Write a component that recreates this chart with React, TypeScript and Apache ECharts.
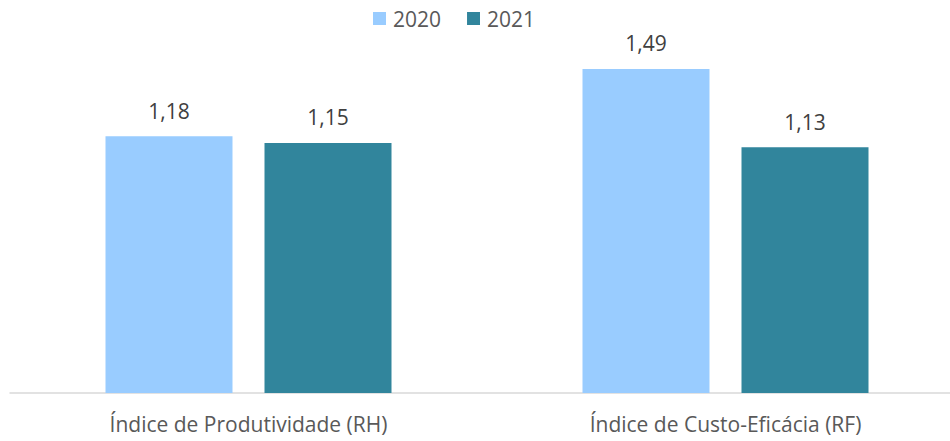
import React, { useEffect, useRef } from "react";
import * as echarts from "echarts";

const categories = ["Índice de Produtividade (RH)", "Índice de Custo-Eficácia (RF)"];
const seriesNames = ["2020", "2021"];
const values2020 = [1.18, 1.49];
const values2021 = [1.15, 1.13];
const colors = ["#99CCFF", "#31859C"];

const FONT = "'Open Sans', sans-serif";
const FS = 21;
const fmt = (v: number) => v.toFixed(2).replace(".", ",");

export default function App() {
  const ref = useRef<HTMLDivElement>(null);
  useEffect(() => {
    if (!ref.current) return;
    const chart = echarts.init(ref.current, undefined, { renderer: "svg" });
    const mk = (name: string, data: number[], color: string) => ({
      name,
      type: "bar",
      data,
      barWidth: 127,
      barGap: "25.2%",
      itemStyle: { color },
      label: {
        show: true,
        position: "top",
        distance: 15,
        color: "#404040",
        fontFamily: FONT,
        fontSize: FS,
        formatter: (p: any) => fmt(p.value),
      },
    });
    chart.setOption({
      animation: false,
      backgroundColor: "#ffffff",
      legend: {
        top: 8,
        left: 373,
        padding: 0,
        itemWidth: 13,
        itemHeight: 13,
        itemGap: 26,
        icon: "rect",
        textStyle: { color: "#595959", fontFamily: FONT, fontSize: FS, padding: [0, 0, 0, 2] },
        data: seriesNames,
      },
      grid: { left: 10, top: 45, right: 0, bottom: 48, containLabel: false },
      xAxis: {
        type: "category",
        data: categories,
        axisLine: { lineStyle: { color: "#D9D9D9", width: 1.5 } },
        axisTick: { show: false },
        axisLabel: { color: "#595959", fontFamily: FONT, fontSize: FS, margin: 20 },
      },
      yAxis: {
        type: "value",
        min: 0,
        max: 1.6,
        show: false,
        splitLine: { show: false },
      },
      series: [mk(seriesNames[0], values2020, colors[0]), mk(seriesNames[1], values2021, colors[1])],
    });
    return () => chart.dispose();
  }, []);
  return (
    <div style={{ position: "absolute", left: 0, top: 0, width: 950, height: 441, overflow: "hidden", background: "#fff" }}>
      <div ref={ref} style={{ width: 964, height: 441 }} />
    </div>
  );
}
